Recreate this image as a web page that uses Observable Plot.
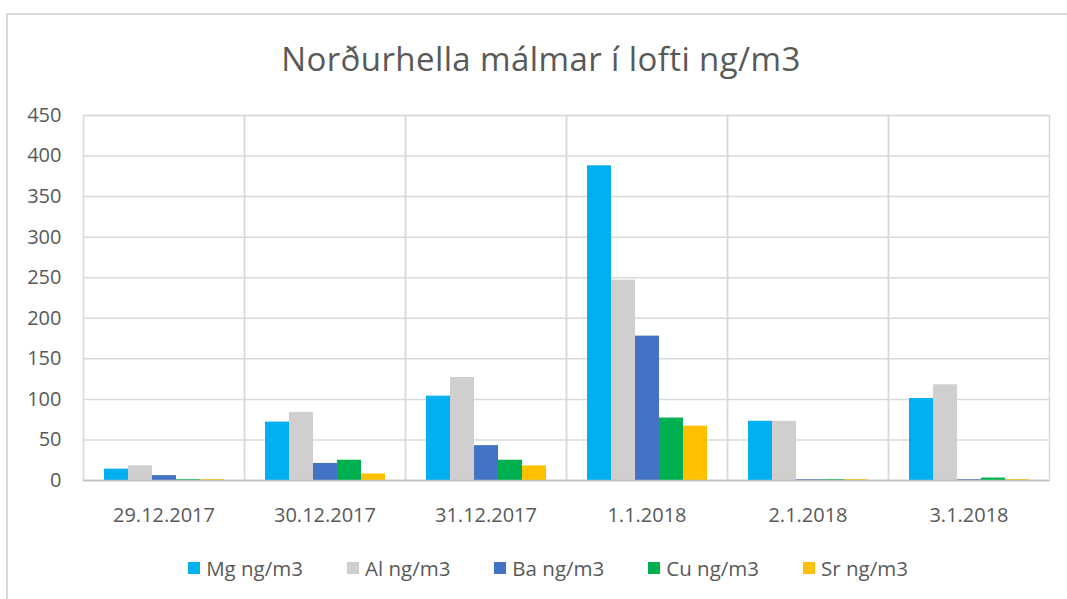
<!DOCTYPE html>
<html>
<head>
<meta charset="utf-8">
<script src="https://cdn.jsdelivr.net/npm/d3@7"></script>
<script src="https://cdn.jsdelivr.net/npm/@observablehq/plot@0.6"></script>
<style>
  html, body { margin: 0; padding: 0; background: #fff; overflow: hidden; }
  body { width: 1067px; height: 599px; position: relative; font-family: "Open Sans", "Noto Sans", sans-serif; }
  #border { position: absolute; left: 6px; top: 13px; width: 1200px; height: 700px; border-left: 2px solid #d9d9d9; border-top: 2px solid #d9d9d9; box-sizing: border-box; }
  #title { position: absolute; left: 0; width: 1082px; top: 36px; text-align: center; font-size: 33px; color: #595959; letter-spacing: 0.4px; }
  #chart { position: absolute; left: 0; top: 100px; }
  #legend { position: absolute; left: 0; width: 1096px; top: 554px; display: flex; justify-content: center; gap: 44px; font-size: 20.5px; color: #595959; }
  #legend span.item { display: flex; align-items: center; }
  #legend span.sw { display: inline-block; width: 12px; height: 12px; margin-right: 6px; }
</style>
</head>
<body>
<div id="border"></div>
<div id="title">Norðurhella málmar í lofti ng/m3</div>
<div id="chart"></div>
<div id="legend"></div>
<script>
const dates = ["29.12.2017", "30.12.2017", "31.12.2017", "1.1.2018", "2.1.2018", "3.1.2018"];
const seriesNames = ["Mg ng/m3", "Al ng/m3", "Ba ng/m3", "Cu ng/m3", "Sr ng/m3"];
const seriesColors = ["#00b0f0", "#d0cece", "#4472c4", "#00b050", "#ffc000"];
const mg = [14, 72, 104, 388, 73, 101];
const al = [18, 84, 127, 247, 73, 118];
const ba = [6, 21, 43, 178, 1, 1];
const cu = [1, 25, 25, 77, 1, 3];
const sr = [1, 8, 18, 67, 1, 1];
const yTicks = [0, 50, 100, 150, 200, 250, 300, 350, 400, 450];

const valuesBySeries = [mg, al, ba, cu, sr];
const rows = [];
dates.forEach((d, i) => {
  seriesNames.forEach((s, j) => rows.push({date: d, series: s, value: valuesBySeries[j][i]}));
});

const plot = Plot.plot({
  width: 1067,
  height: 430,
  marginLeft: 82,
  marginRight: 18,
  marginTop: 15,
  marginBottom: 50,
  style: {fontFamily: "'Open Sans', 'Noto Sans', sans-serif", fontSize: "20px", color: "#595959", background: "transparent"},
  fx: {domain: dates, padding: 0, label: null, tickSize: 0, tickPadding: 27},
  x: {domain: seriesNames, paddingInner: 0, paddingOuter: 0.8, axis: null},
  y: {domain: [0, 450], ticks: yTicks, label: null, tickSize: 0, tickPadding: 22},
  color: {domain: seriesNames, range: seriesColors},
  facet: {data: rows, x: "date", label: null},
  marks: [
    Plot.ruleY(yTicks, {stroke: "#d9d9d9", strokeWidth: 1.5, strokeOpacity: 1}),
    Plot.frame({stroke: "#d9d9d9", strokeWidth: 1.5}),
    Plot.barY(rows, {x: "series", y: "value", fill: "series"}),
    Plot.ruleY([0], {stroke: "#bfbfbf", strokeWidth: 1.5})
  ]
});
document.getElementById("chart").appendChild(plot);

const legend = document.getElementById("legend");
seriesNames.forEach((s, j) => {
  const item = document.createElement("span");
  item.className = "item";
  const sw = document.createElement("span");
  sw.className = "sw";
  sw.style.background = seriesColors[j];
  item.appendChild(sw);
  item.appendChild(document.createTextNode(s));
  legend.appendChild(item);
});
</script>
</body>
</html>
